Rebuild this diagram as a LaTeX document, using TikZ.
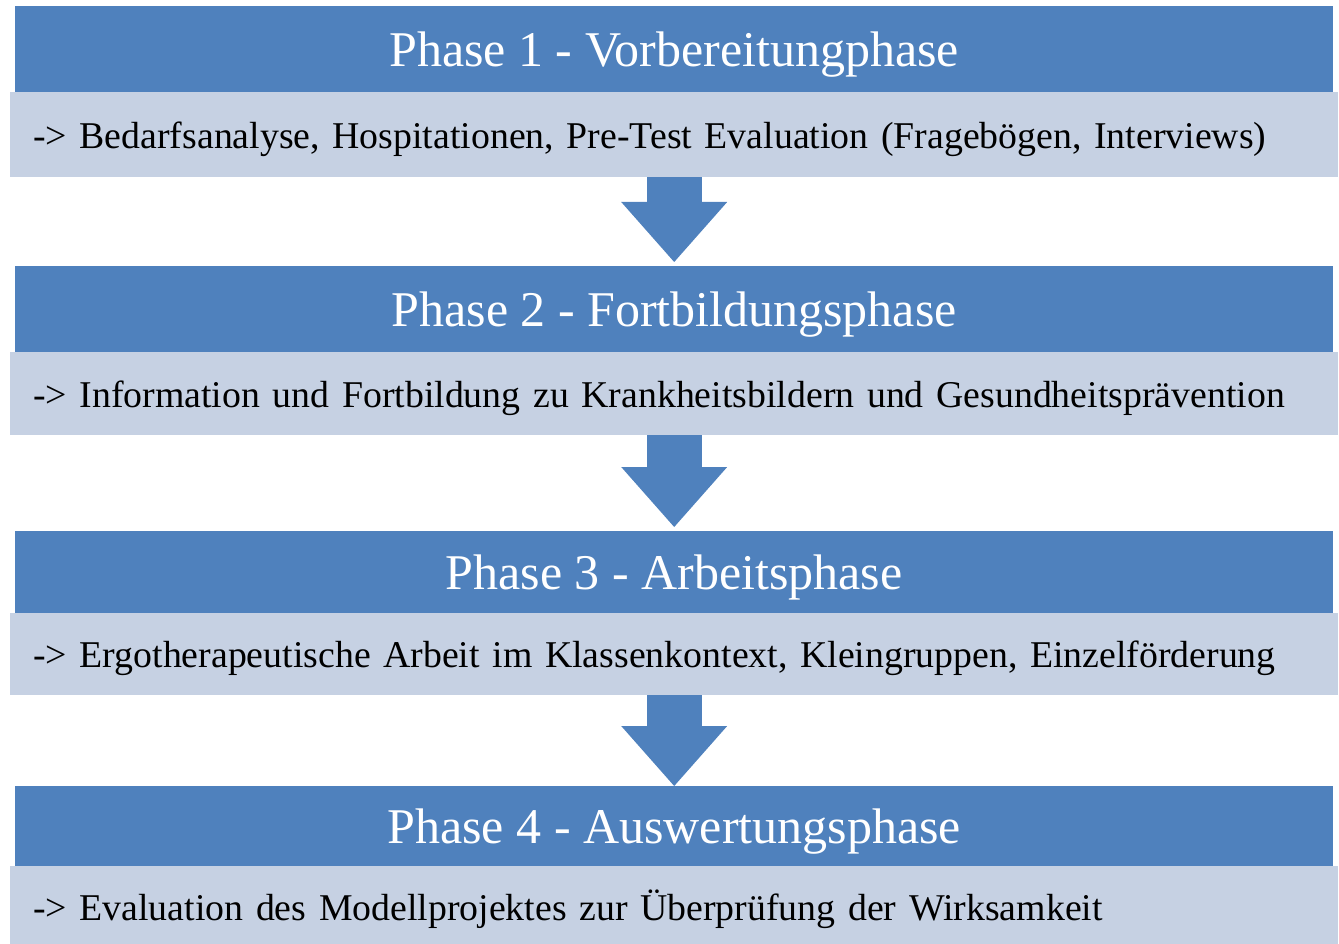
\documentclass[tikz,border=0pt]{standalone}
\usepackage{fontspec}
\setmainfont{Liberation Serif}
\usetikzlibrary{arrows.meta}
\definecolor{phaseblue}{HTML}{4F81BD}
\definecolor{phasegray}{HTML}{C6D1E3}

\begin{document}
\begin{tikzpicture}[x=1pt,y=-1pt,
  head node/.style={rectangle,fill=phaseblue,text=white,anchor=north west,minimum width=1318pt,
    inner sep=0pt,text depth=0pt,font=\fontsize{50}{56}\selectfont},
  body node/.style={rectangle,fill=phasegray,anchor=north west,minimum width=1328pt,
    inner xsep=23pt,inner ysep=0pt,text width=1282pt,text depth=0pt,align=left,
    font=\fontsize{37.8}{44}\selectfont},
  phase arrow/.style={color=phaseblue,line width=55pt,
    -{Triangle[width=106pt,length=60pt,line width=0pt 0]},shorten >=4pt}]

  \useasboundingbox (0,0) rectangle (1339,944);

  \node[head node,minimum height=86pt] (h1) at (15,6) {Phase 1 - Vorbereitungphase};
  \node[body node,minimum height=85pt] (b1) at (10,92) {\mbox{-> Bedarfsanalyse, Hospitationen, Pre-Test Evaluation (Fragebögen, Interviews)}};
  \node[head node,minimum height=86pt] (h2) at (15,266) {Phase 2 - Fortbildungsphase};
  \node[body node,minimum height=83pt] (b2) at (10,352) {\mbox{-> Information und Fortbildung zu Krankheitsbildern und Gesundheitsprävention}};
  \node[head node,minimum height=82pt] (h3) at (15,531) {Phase 3 - Arbeitsphase};
  \node[body node,minimum height=82pt] (b3) at (10,613) {\mbox{-> Ergotherapeutische Arbeit im Klassenkontext, Kleingruppen, Einzelförderung}};
  \node[head node,minimum height=80pt] (h4) at (15,786) {Phase 4 - Auswertungsphase};
  \node[body node,minimum height=78pt] (b4) at (10,866) {\mbox{-> Evaluation des Modellprojektes zur Überprüfung der Wirksamkeit}};

  \path[phase arrow]
    (b1.south) edge (h2.north)
    (b2.south) edge (h3.north)
    (b3.south) edge[shorten >=0pt] (h4.north);

\end{tikzpicture}
\end{document}
